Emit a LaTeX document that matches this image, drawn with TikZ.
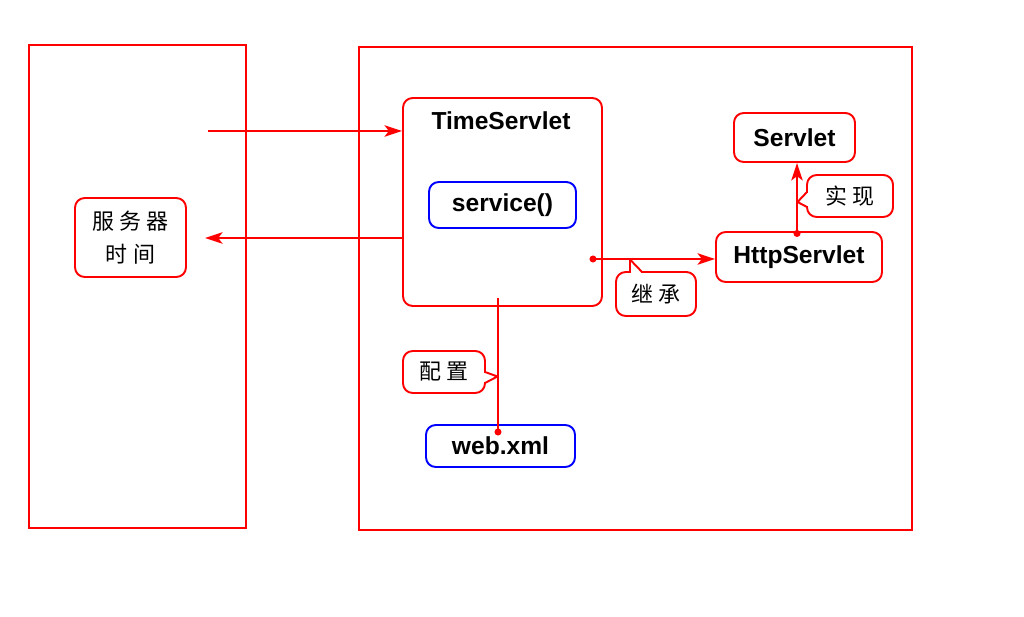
\documentclass[tikz,border=0pt]{standalone}
\usepackage{fontspec}
\setmainfont{Liberation Sans}
\newfontfamily\cjk{Noto Sans CJK SC}
\usetikzlibrary{arrows.meta}
\begin{document}
\begin{tikzpicture}[x=0.02cm,y=-0.02cm,
  lw/.style={line width=1.1pt},
  frame/.style={draw=red, lw, inner sep=0pt},
  rbox/.style={draw=red, lw, rounded corners=5.5pt, inner sep=0pt, fill=white},
  bbox/.style={draw=blue, lw, rounded corners=5.5pt, inner sep=0pt, fill=white},
  lbl/.style={font=\bfseries\fontsize{14}{16}\selectfont},
  cn/.style={font=\cjk\fontsize{12.5}{18.7}\selectfont},
  conn/.style={draw=red, lw},
  arr/.style={draw=red, lw, -{Stealth[length=10pt,width=6.5pt,inset=2.5pt]}},
  dot/.style={fill=red, circle, inner sep=0pt, minimum size=4pt},
  ptr/.style={draw=red, lw, line join=round}
]
\useasboundingbox (0,0) rectangle (1024,617);

% frames
\node[frame, minimum width=4.34cm, minimum height=9.66cm] (left) at (137.5,286.5) {};
\node[frame, minimum width=11.06cm, minimum height=9.66cm] (right) at (635.5,288.5) {};

% TimeServlet
\node[rbox, minimum width=3.98cm, minimum height=4.16cm] (ts) at (502.5,202) {};
\node[lbl] (tstitle) at (501,121) {TimeServlet};
\node[bbox, minimum width=2.94cm, minimum height=0.92cm, lbl] (svc) at (502.5,205) {service()};

% server time
\node[rbox, minimum width=2.22cm, minimum height=1.58cm, cn, align=center] (time) at (130.5,237.5) {服\hspace{3pt}务\hspace{3pt}器\\时\hspace{3pt}间};

% Servlet / HttpServlet
\node[rbox, minimum width=2.42cm, minimum height=0.98cm, lbl] (sv) at (794.5,137.5) {Servlet};
\node[rbox, minimum width=3.32cm, minimum height=1.0cm, lbl] (hs) at (799,257) {HttpServlet};

% web.xml
\node[bbox, minimum width=2.98cm, minimum height=0.84cm, lbl] (web) at (500.5,446) {web.xml};

% connectors
\coordinate (in1) at (208,131);
\coordinate (out2) at (205,238);
\draw[arr] (in1) -- (ts.west |- in1);
\draw[arr] (ts.west |- out2) -- (out2);

\coordinate (inh) at (593,259);
\draw[arr] (inh) -- (hs.west |- inh);
\node[dot] at (inh) {};

\coordinate (impl) at (797,233.5);
\draw[arr] (impl) -- (sv.south -| impl);
\node[dot] at (impl) {};

\coordinate (cfgtop) at (498,298);
\coordinate (cfgdot) at (498,432);
\draw[conn] (cfgtop) -- (cfgdot);
\node[dot] at (cfgdot) {};

% callouts
\node[rbox, minimum width=1.72cm, minimum height=0.84cm, cn] (c1) at (850,196) {实\hspace{3pt}现};
\fill[white] (805.5,193.2) rectangle (809,206);
\draw[ptr] (807,192) -- (797.5,202) -- (807,207);

\node[rbox, minimum width=1.6cm, minimum height=0.88cm, cn] (c2) at (656,294) {继\hspace{3pt}承};
\fill[white] (631,270.5) rectangle (641,274);
\draw[ptr] (630,272) -- (630,259.5) -- (642,272);

\node[rbox, minimum width=1.64cm, minimum height=0.84cm, cn] (c3) at (444,372) {配\hspace{3pt}置};
\fill[white] (483.5,373.2) rectangle (487,382);
\draw[ptr] (485,372) -- (497.5,376.5) -- (485,383);
\end{tikzpicture}
\end{document}
